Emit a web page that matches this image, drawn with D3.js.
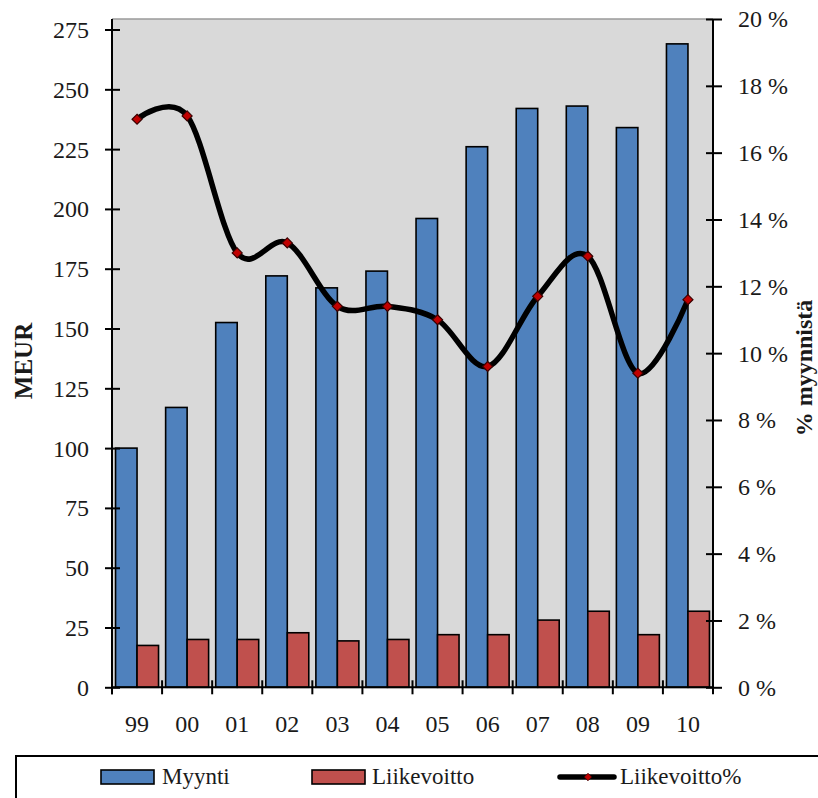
<!DOCTYPE html>
<html>
<head>
<meta charset="utf-8">
<script src="https://cdn.jsdelivr.net/npm/d3@7/dist/d3.min.js"></script>
<style>
  html, body { margin: 0; padding: 0; background: #fff; }
  svg { display: block; }
  text { font-family: "Liberation Serif", "DejaVu Serif", serif; fill: #1a1a1a; }
</style>
</head>
<body>
<svg id="chart" width="818" height="798"></svg>
<script>
// ---- data ----
const years = ["99","00","01","02","03","04","05","06","07","08","09","10"];
const myynti = [100, 117, 152.5, 172, 167, 174, 196, 226, 242, 243, 234, 269];
const liikevoitto = [17.5, 20, 20, 22.8, 19.4, 20, 22, 22, 28.1, 31.8, 22, 31.8];
const liikevoittoPct = [17.0, 17.1, 13.0, 13.3, 11.4, 11.4, 11.0, 9.6, 11.7, 12.9, 9.4, 11.6];
const leftTicks = [0, 25, 50, 75, 100, 125, 150, 175, 200, 225, 250, 275];
const rightTicks = [0, 2, 4, 6, 8, 10, 12, 14, 16, 18, 20];
const seriesNames = ["Myynti", "Liikevoitto", "Liikevoitto%"];
const colors = { Myynti: "#4f81bd", Liikevoitto: "#c0504d" };

// ---- layout ----
const plot = { left: 112, right: 713, top: 19, bottom: 687.3 };
const svg = d3.select("#chart");

const x = d3.scaleBand().domain(years).range([plot.left, plot.right]).paddingInner(0).paddingOuter(0);
const xs = d3.scaleBand().domain(["Myynti", "Liikevoitto"]).range([0, x.bandwidth()]).paddingInner(0).paddingOuter(0.165);
const y = d3.scaleLinear().domain([0, 279.4]).range([plot.bottom, plot.top]);
const y2 = d3.scaleLinear().domain([0, 20]).range([plot.bottom, plot.top]);

// plot background
svg.append("rect")
  .attr("x", plot.left).attr("y", plot.top)
  .attr("width", plot.right - plot.left).attr("height", plot.bottom - plot.top)
  .attr("fill", "#d9d9d9");
svg.append("line")
  .attr("x1", plot.left).attr("x2", plot.right)
  .attr("y1", plot.top).attr("y2", plot.top)
  .attr("stroke", "#9a9a9a").attr("stroke-width", 1.5);

// bars
const rows = years.map((yr, i) => ({ yr, Myynti: myynti[i], Liikevoitto: liikevoitto[i] }));
const g = svg.append("g");
["Myynti", "Liikevoitto"].forEach(key => {
  g.selectAll("rect." + key).data(rows).enter().append("rect")
    .attr("class", key)
    .attr("x", d => x(d.yr) + xs(key))
    .attr("width", xs.bandwidth())
    .attr("y", d => y(d[key]))
    .attr("height", d => y(0) - y(d[key]))
    .attr("fill", colors[key])
    .attr("stroke", "#000").attr("stroke-width", 1.6);
});

// axes
const axisFont = 24;
// left
const ga = svg.append("g").attr("transform", `translate(${plot.left},0)`)
  .call(d3.axisLeft(y).tickValues(leftTicks).tickSize(0).tickPadding(0).tickFormat(d3.format("d")));
ga.select(".domain").remove();
ga.selectAll(".tick text").remove();
ga.selectAll(".tick").append("line").attr("x1", -7).attr("x2", 8).attr("stroke", "#000").attr("stroke-width", 2);
ga.selectAll(".tick").append("text")
  .attr("x", -23).attr("dy", "0.33em").attr("text-anchor", "end")
  .style("font-size", axisFont + "px").attr("fill", "#1a1a1a")
  .text(d => d);
svg.append("line").attr("x1", plot.left).attr("x2", plot.left).attr("y1", plot.top).attr("y2", plot.bottom + 7)
  .attr("stroke", "#000").attr("stroke-width", 2);

// right
const gr = svg.append("g").attr("transform", `translate(${plot.right},0)`)
  .call(d3.axisRight(y2).tickValues(rightTicks).tickSize(0).tickPadding(0));
gr.select(".domain").remove();
gr.selectAll(".tick text").remove();
gr.selectAll(".tick").append("line").attr("x1", -7).attr("x2", 9).attr("stroke", "#000").attr("stroke-width", 2);
gr.selectAll(".tick").append("text")
  .attr("x", 25).attr("dy", "0.33em").attr("text-anchor", "start")
  .style("font-size", axisFont + "px").attr("fill", "#1a1a1a")
  .text(d => d + " %");
svg.append("line").attr("x1", plot.right).attr("x2", plot.right).attr("y1", plot.top).attr("y2", plot.bottom + 7)
  .attr("stroke", "#000").attr("stroke-width", 2);

// bottom
const gb = svg.append("g").attr("transform", `translate(0,${plot.bottom})`)
  .call(d3.axisBottom(x).tickSize(0).tickPadding(0));
gb.select(".domain").remove();
gb.selectAll(".tick text").remove();
gb.selectAll(".tick").append("text")
  .attr("y", 45).attr("text-anchor", "middle")
  .style("font-size", axisFont + "px").attr("fill", "#1a1a1a")
  .text(d => d);
svg.append("line").attr("x1", plot.left).attr("x2", plot.right).attr("y1", plot.bottom).attr("y2", plot.bottom)
  .attr("stroke", "#000").attr("stroke-width", 2);
svg.append("g").selectAll("line").data(years).enter().append("line")
  .attr("x1", d => x(d)).attr("x2", d => x(d))
  .attr("y1", plot.bottom - 7).attr("y2", plot.bottom + 7)
  .attr("stroke", "#000").attr("stroke-width", 2);

// line series
const pts = years.map((yr, i) => [x(yr) + x.bandwidth() / 2, y2(liikevoittoPct[i])]);
svg.append("path")
  .attr("d", d3.line().curve(d3.curveCardinal.tension(0))(pts))
  .attr("fill", "none").attr("stroke", "#000").attr("stroke-width", 5.5)
  .attr("stroke-linejoin", "round").attr("stroke-linecap", "round");
const diamond = d3.symbol().type(d3.symbolDiamond2).size(64);
svg.append("g").selectAll("path").data(pts).enter().append("path")
  .attr("transform", d => `translate(${d[0]},${d[1]})`)
  .attr("d", diamond)
  .attr("fill", "#c00000").attr("stroke", "#3a0000").attr("stroke-width", 1.2);

// axis titles
svg.append("text")
  .attr("transform", "translate(31.5,361) rotate(-90)")
  .attr("text-anchor", "middle")
  .style("font-size", "25px").style("font-weight", "bold").attr("fill", "#000")
  .text("MEUR");
svg.append("text")
  .attr("transform", "translate(812,368) rotate(-90)")
  .attr("text-anchor", "middle")
  .style("font-size", "24px").style("font-weight", "bold").attr("fill", "#000")
  .text("% myynnistä");

// legend
const lg = svg.append("g");
lg.append("rect").attr("x", 16).attr("y", 756).attr("width", 900).attr("height", 120)
  .attr("fill", "#fff").attr("stroke", "#000").attr("stroke-width", 2);
lg.append("rect").attr("x", 101).attr("y", 770).attr("width", 53).attr("height", 14)
  .attr("fill", colors.Myynti).attr("stroke", "#000").attr("stroke-width", 1.6);
lg.append("text").attr("x", 162).attr("y", 784).style("font-size", "23px").text(seriesNames[0]);
lg.append("rect").attr("x", 312).attr("y", 770).attr("width", 53).attr("height", 14)
  .attr("fill", colors.Liikevoitto).attr("stroke", "#000").attr("stroke-width", 1.6);
lg.append("text").attr("x", 372).attr("y", 784).style("font-size", "23px").text(seriesNames[1]);
lg.append("line").attr("x1", 560).attr("x2", 614).attr("y1", 777).attr("y2", 777)
  .attr("stroke", "#000").attr("stroke-width", 5.5).attr("stroke-linecap", "round");
lg.append("path").attr("transform", "translate(588,777)").attr("d", d3.symbol().type(d3.symbolDiamond2).size(36))
  .attr("fill", "#c00000").attr("stroke", "#3a0000").attr("stroke-width", 0.8);
lg.append("text").attr("x", 620).attr("y", 784).style("font-size", "23px").text(seriesNames[2]);
</script>
</body>
</html>
